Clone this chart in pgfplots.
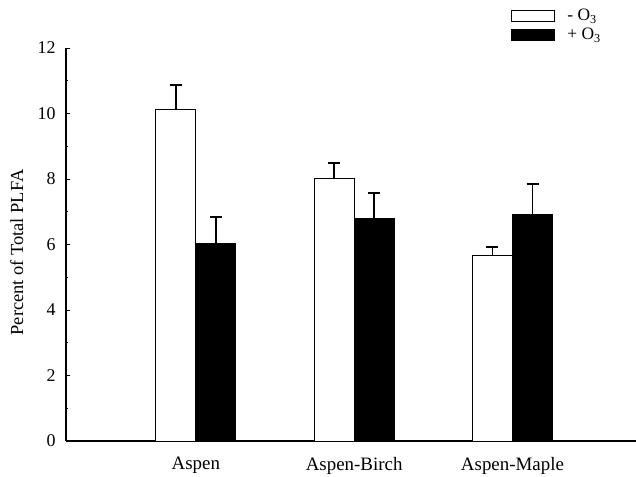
\documentclass[border=0pt]{standalone}
\usepackage{fontspec}
\setmainfont{Liberation Serif}
\usepackage{pgfplots}
\pgfplotsset{compat=1.18}
\begin{document}
\fontsize{18.5}{22}\selectfont
\begin{tikzpicture}
\path[use as bounding box] (0,0) rectangle (636bp,477bp);
\begin{axis}[
  at={(66bp,36bp)}, anchor=south west,
  width=570bp, height=393bp, scale only axis,
  xmin=-0.82, xmax=2.78, ymin=0, ymax=12,
  ybar,
  axis lines*=left,
  axis line style={line width=1.2bp},
  ytick={0,2,...,12}, minor ytick={1,3,...,11},
  tick align=inside, major tick length=4bp, minor tick length=2bp,
  tick style={line width=0.8bp, black},
  xtick={0,1,2}, xticklabels={Aspen,Aspen-Birch,Aspen-Maple},
  x tick style={draw=none},
  xticklabel style={yshift=-10bp, font=\fontsize{19}{22}\selectfont},
  yticklabel style={xshift=-4bp, font=\fontsize{18}{22}\selectfont},
  ylabel={Percent of Total PLFA},
  ylabel style={yshift=2bp, xshift=-8bp, font=\fontsize{18.5}{22}\selectfont},
  /pgf/number format/assume math mode=true,
  legend style={at={(axis description cs:0.781,1.105)}, anchor=north west,
    draw=none, fill=none, inner sep=0pt, row sep=1bp,
    nodes={inner sep=2bp, font=\fontsize{17.5}{21}\selectfont}},
  legend cell align=left,
]
\addplot[bar width=0.253, bar shift=-0.1265, fill=white, draw=black, line width=1bp, mark=none,
  legend image code/.code={\draw[fill=white,draw=black,line width=1bp] (0bp,-5.5bp) rectangle (43bp,5.5bp);},
  error bars/.cd, y dir=plus, y explicit,
  error bar style={line width=1.6bp, black},
  error mark options={rotate=90, mark size=6bp, line width=1.6bp, black}]
  coordinates {(0,10.12) +- (0,0.75) (1,8.00) +- (0,0.49) (2,5.65) +- (0,0.27)};
\addlegendentry{\hspace{10bp}- O\textsubscript{3}}
\addplot[bar width=0.253, bar shift=0.1265, fill=black, draw=black, line width=1bp, mark=none,
  legend image code/.code={\draw[fill=black,draw=black,line width=1bp] (0bp,-5.5bp) rectangle (43bp,5.5bp);},
  error bars/.cd, y dir=plus, y explicit,
  error bar style={line width=1.6bp, black},
  error mark options={rotate=90, mark size=6bp, line width=1.6bp, black}]
  coordinates {(0,6.02) +- (0,0.82) (1,6.78) +- (0,0.79) (2,6.93) +- (0,0.92)};
\addlegendentry{\hspace{10bp}+ O\textsubscript{3}}
\end{axis}
\end{tikzpicture}
\end{document}
